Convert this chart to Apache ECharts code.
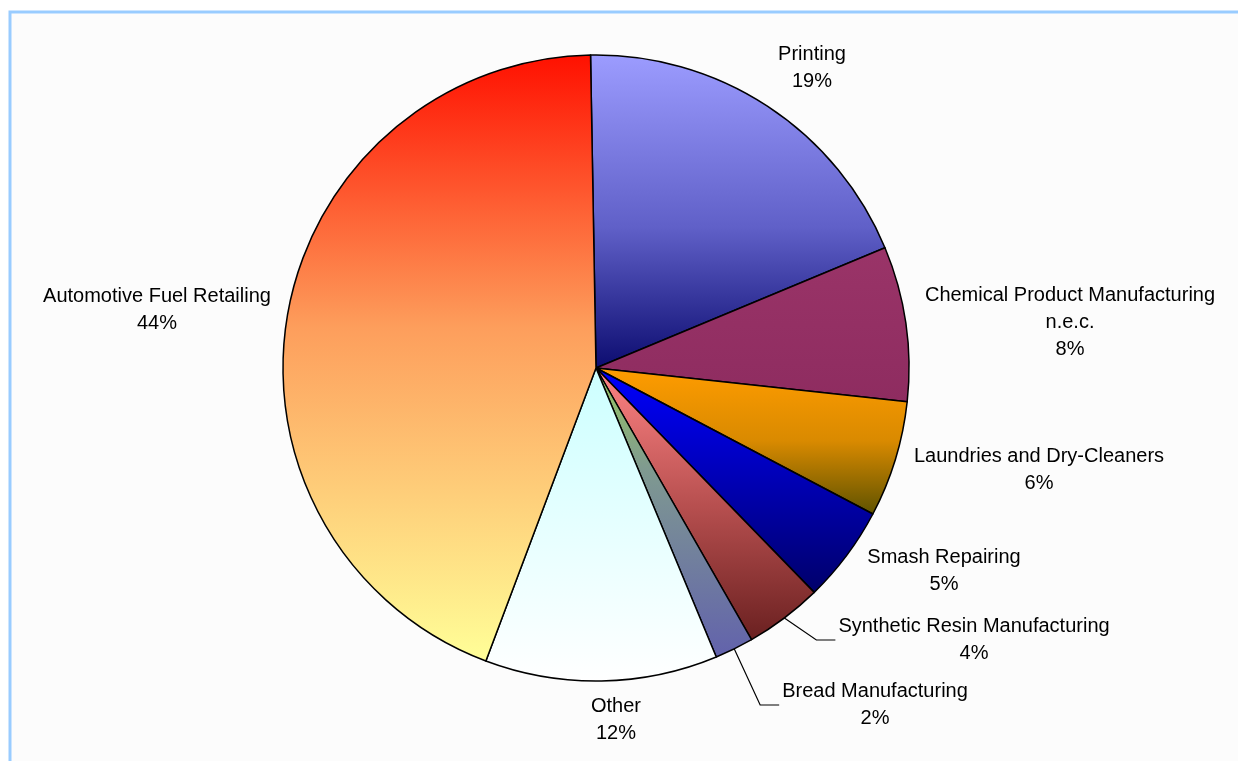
<!DOCTYPE html>
<html>
<head>
<meta charset="utf-8">
<title>Emission sources by industry</title>
<script src="https://cdn.jsdelivr.net/npm/echarts@6/dist/echarts.min.js"></script>
<style>
  html, body { margin: 0; padding: 0; background: #ffffff; }
  #chart { width: 1238px; height: 761px; }
</style>
</head>
<body>
<div id="chart"></div>
<script>
// Industry categories, clockwise from twelve o'clock
const categories = [
  'Printing',
  'Chemical Product Manufacturing\nn.e.c.',
  'Laundries and Dry-Cleaners',
  'Smash Repairing',
  'Synthetic Resin Manufacturing',
  'Bread Manufacturing',
  'Other',
  'Automotive Fuel Retailing'
];
// Share of total, per cent
const shares = [19, 8, 6, 5, 4, 2, 12, 44];

// Vertical fills for each slice (top -> bottom)
const fills = [
  [[0, '#9c9cff'], [0.55, '#6060c8'], [1, '#0c0c70']],
  [[0, '#9a3468'], [1, '#8e2c60']],
  [[0, '#ff9c00'], [0.5, '#d98a00'], [1, '#5e5200']],
  [[0, '#0000ff'], [1, '#00006a']],
  [[0, '#ff8484'], [0.5, '#b85050'], [1, '#6a2020']],
  [[0, '#98c860'], [0.35, '#7f9a90'], [1, '#6262ac']],
  [[0, '#ccffff'], [1, '#ffffff']],
  [[0, '#ff1000'], [0.45, '#fd9e5c'], [1, '#ffff98']]
];

// Label block centres and which labels get a leader line
const labelAnchors = [
  [812, 68], [1070, 322], [1039, 470], [944, 571],
  [974, 640], [875, 705], [616, 720], [157, 310]
];
const withLeader = [4, 5];

function gradient(stops) {
  return new echarts.graphic.LinearGradient(0, 0, 0, 1,
    stops.map(s => ({ offset: s[0], color: s[1] })));
}

const chart = echarts.init(document.getElementById('chart'), null, { renderer: 'canvas' });

const seriesData = categories.map((name, i) => ({
  name: name,
  value: shares[i],
  itemStyle: { color: gradient(fills[i]) },
  labelLine: { show: withLeader.indexOf(i) >= 0 }
}));

chart.setOption({
  animation: false,
  backgroundColor: '#ffffff',
  graphic: [{
    type: 'rect',
    z: -10,
    silent: true,
    shape: { x: 10, y: 12, width: 1260, height: 780 },
    style: { fill: '#fcfcfc', stroke: '#99ccff', lineWidth: 3 }
  }],
  series: [{
    type: 'pie',
    center: [596, 368],
    radius: 313,
    startAngle: 91,
    clockwise: true,
    avoidLabelOverlap: false,
    itemStyle: { borderColor: '#000000', borderWidth: 1.5 },
    emphasis: { disabled: true },
    label: {
      show: true,
      position: 'outside',
      color: '#000000',
      fontFamily: '"Liberation Sans", Arial, sans-serif',
      fontSize: 20,
      lineHeight: 27,
      align: 'center',
      formatter: p => p.name + '\n' + Math.round(p.percent) + '%'
    },
    labelLine: {
      length: 10,
      length2: 10,
      lineStyle: { color: '#000000', width: 1.2 }
    },
    labelLayout: function (params) {
      const i = params.dataIndex;
      const a = labelAnchors[i];
      const out = { x: a[0], y: a[1], align: 'center', verticalAlign: 'middle' };
      if (withLeader.indexOf(i) >= 0 && params.labelLinePoints) {
        const start = params.labelLinePoints[0];
        const left = a[0] - params.labelRect.width / 2 - 3;
        out.labelLinePoints = [start, [left - 19, a[1]], [left, a[1]]];
      }
      return out;
    },
    data: seriesData
  }]
});
</script>
</body>
</html>
